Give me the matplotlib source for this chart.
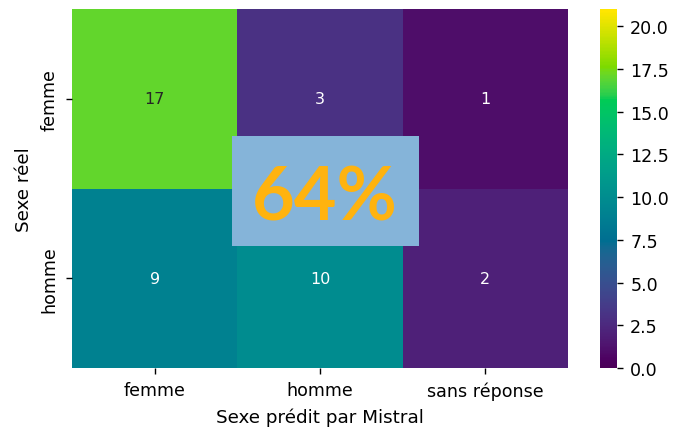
import matplotlib
matplotlib.use("Agg")
import matplotlib.pyplot as plt
from matplotlib.colors import ListedColormap
from matplotlib.patches import Rectangle
import seaborn as sns
import numpy as np

row_labels = ["femme", "homme"]
col_labels = ["femme", "homme", "sans réponse"]
counts = [[17, 3, 1],
          [9, 10, 2]]
accuracy_text = "64%"

# viridis, rendered with a wider-gamut (more saturated) look as in the reference
base = plt.get_cmap("viridis")(np.linspace(0, 1, 256))[:, :3]
lin = np.where(base <= 0.04045, base / 12.92, ((base + 0.055) / 1.055) ** 2.4)
M = np.array([[1.2249, -0.2247, 0.0],
              [-0.0420, 1.0419, 0.0],
              [-0.0197, -0.0786, 1.0979]])
lin2 = np.clip(lin @ M.T, 0, 1)
srgb = np.where(lin2 <= 0.0031308, lin2 * 12.92, 1.055 * lin2 ** (1 / 2.4) - 0.055)
cmap = ListedColormap(np.clip(srgb, 0, 1))

plt.rcParams["xtick.major.size"] = 4.5
plt.rcParams["ytick.major.size"] = 4.5
plt.rcParams["xtick.major.width"] = 1.0
plt.rcParams["ytick.major.width"] = 1.0
plt.rcParams["xtick.major.pad"] = 5.0
plt.rcParams["ytick.major.pad"] = 5.0
plt.rcParams["axes.labelpad"] = 5.5

W, H = 677, 431
fig = plt.figure(figsize=(6.77, 4.31), dpi=100)
ax = fig.add_axes([72/W, 62/H, 496/W, 359/H])
cax = fig.add_axes([600/W, 62/H, 17/W, 359/H])

sns.heatmap(np.array(counts), annot=True, fmt="d", cmap=cmap, vmin=0, vmax=21,
            xticklabels=col_labels, yticklabels=row_labels, ax=ax, cbar_ax=cax,
            annot_kws={"fontsize": 11.5})
ax.set_xlabel("Sexe prédit par Mistral", fontsize=13.2)
ax.set_ylabel("Sexe réel", fontsize=13.2)
ax.tick_params(axis="both", labelsize=12.6)
ax.tick_params(axis="y", rotation=90)
for t in ax.get_yticklabels():
    t.set_va("center")
cax.tick_params(labelsize=12.6)

# overlay box with the accuracy
fig.add_artist(Rectangle((232/W, 1 - 247/H), 187/W, 110/H, transform=fig.transFigure,
                         facecolor="#85B4D9", edgecolor="none", zorder=5))
fig.text(325/W, 1 - 221/H, accuracy_text, ha="center", va="baseline",
         fontsize=53, fontweight="bold", family="Lato", color="#FFB30F", zorder=6)

fig.savefig("out.png", dpi=100)
